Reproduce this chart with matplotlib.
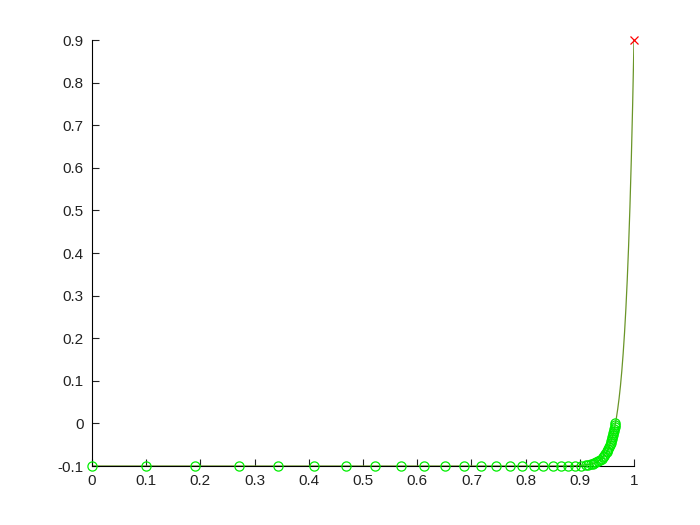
import matplotlib
matplotlib.use('Agg')
import matplotlib.pyplot as plt

plt.rcParams['font.family'] = ['Liberation Sans', 'DejaVu Sans']

# curve (flat at -0.1, sharp rise near x=1)
curve_x = [0.0, 0.5, 0.8, 0.85, 0.88, 0.90, 0.92, 0.93, 0.94, 0.95, 0.955,
           0.96, 0.9625, 0.965, 0.9675, 0.97, 0.9725, 0.975, 0.9775, 0.98,
           0.9825, 0.985, 0.9875, 0.99, 0.9925, 0.995, 0.9975, 1.0]
curve_y = [-0.1, -0.1, -0.1, -0.09998, -0.0998, -0.0990, -0.0959, -0.0917,
           -0.0832, -0.0661, -0.0521, -0.0324, -0.0198, -0.0047, 0.013, 0.034,
           0.0588, 0.088, 0.123, 0.164, 0.212, 0.269, 0.336, 0.415, 0.508,
           0.618, 0.748, 0.9]

# iterates shown as circles
iter_x = [0.0, 0.1, 0.19, 0.271, 0.344, 0.410, 0.469, 0.522, 0.570, 0.613,
          0.651, 0.686, 0.718, 0.746, 0.771, 0.794, 0.815, 0.833, 0.850,
          0.865, 0.878, 0.891, 0.902, 0.911, 0.9155, 0.920, 0.9236, 0.9271,
          0.9306, 0.9339, 0.9371, 0.9401, 0.9427, 0.9452, 0.9473, 0.9493,
          0.9510, 0.9526, 0.9541, 0.9554, 0.9567, 0.9579, 0.9590, 0.9600,
          0.9610, 0.9619, 0.9628, 0.9636, 0.9644, 0.9651, 0.9658]
iter_y = [-0.1] * 20 + [-0.0998, -0.0995, -0.0989, -0.0979, -0.0971, -0.0959,
                        -0.0947, -0.0932, -0.0913, -0.0890, -0.0863, -0.0830,
                        -0.0797, -0.0758, -0.0719, -0.0677, -0.0637, -0.0594,
                        -0.0550, -0.0508, -0.0462, -0.0415, -0.0369, -0.0324,
                        -0.0276, -0.0230, -0.0181, -0.0135, -0.0086, -0.0041,
                        0.0006]

end_x = [1.0]
end_y = [0.9]

xticks = [0, 0.1, 0.2, 0.3, 0.4, 0.5, 0.6, 0.7, 0.8, 0.9, 1]
yticks = [-0.1, 0, 0.1, 0.2, 0.3, 0.4, 0.5, 0.6, 0.7, 0.8, 0.9]

fig = plt.figure(figsize=(7, 5.25), dpi=100)
ax = fig.add_axes([92/700, 1 - 466/525, (634 - 92)/700, (466 - 40)/525])

ax.plot(curve_x, curve_y, color='#6a9528', lw=0.9, zorder=2)
ax.plot(iter_x, iter_y, 'o', mfc='none', mec='#00ee00', ms=6.6, mew=0.9,
        zorder=3, clip_on=False)
ax.plot(end_x, end_y, 'x', color='#ff0000', ms=5.5, mew=0.9, zorder=4,
        clip_on=False)

ax.set_xlim(0, 1)
ax.set_ylim(-0.1, 0.9)
ax.set_xticks(xticks)
ax.set_yticks(yticks)
ax.set_xticklabels(['0', '0.1', '0.2', '0.3', '0.4', '0.5', '0.6', '0.7',
                    '0.8', '0.9', '1'])
ax.set_yticklabels(['-0.1', '0', '0.1', '0.2', '0.3', '0.4', '0.5', '0.6',
                    '0.7', '0.8', '0.9'])

ax.spines['top'].set_visible(False)
ax.spines['right'].set_visible(False)
ax.spines['left'].set_linewidth(0.8)
ax.spines['bottom'].set_linewidth(0.8)
ax.tick_params(direction='in', length=5, width=0.8, labelsize=11,
               colors='#222222', pad=6)

fig.savefig('out.png', dpi=100)
